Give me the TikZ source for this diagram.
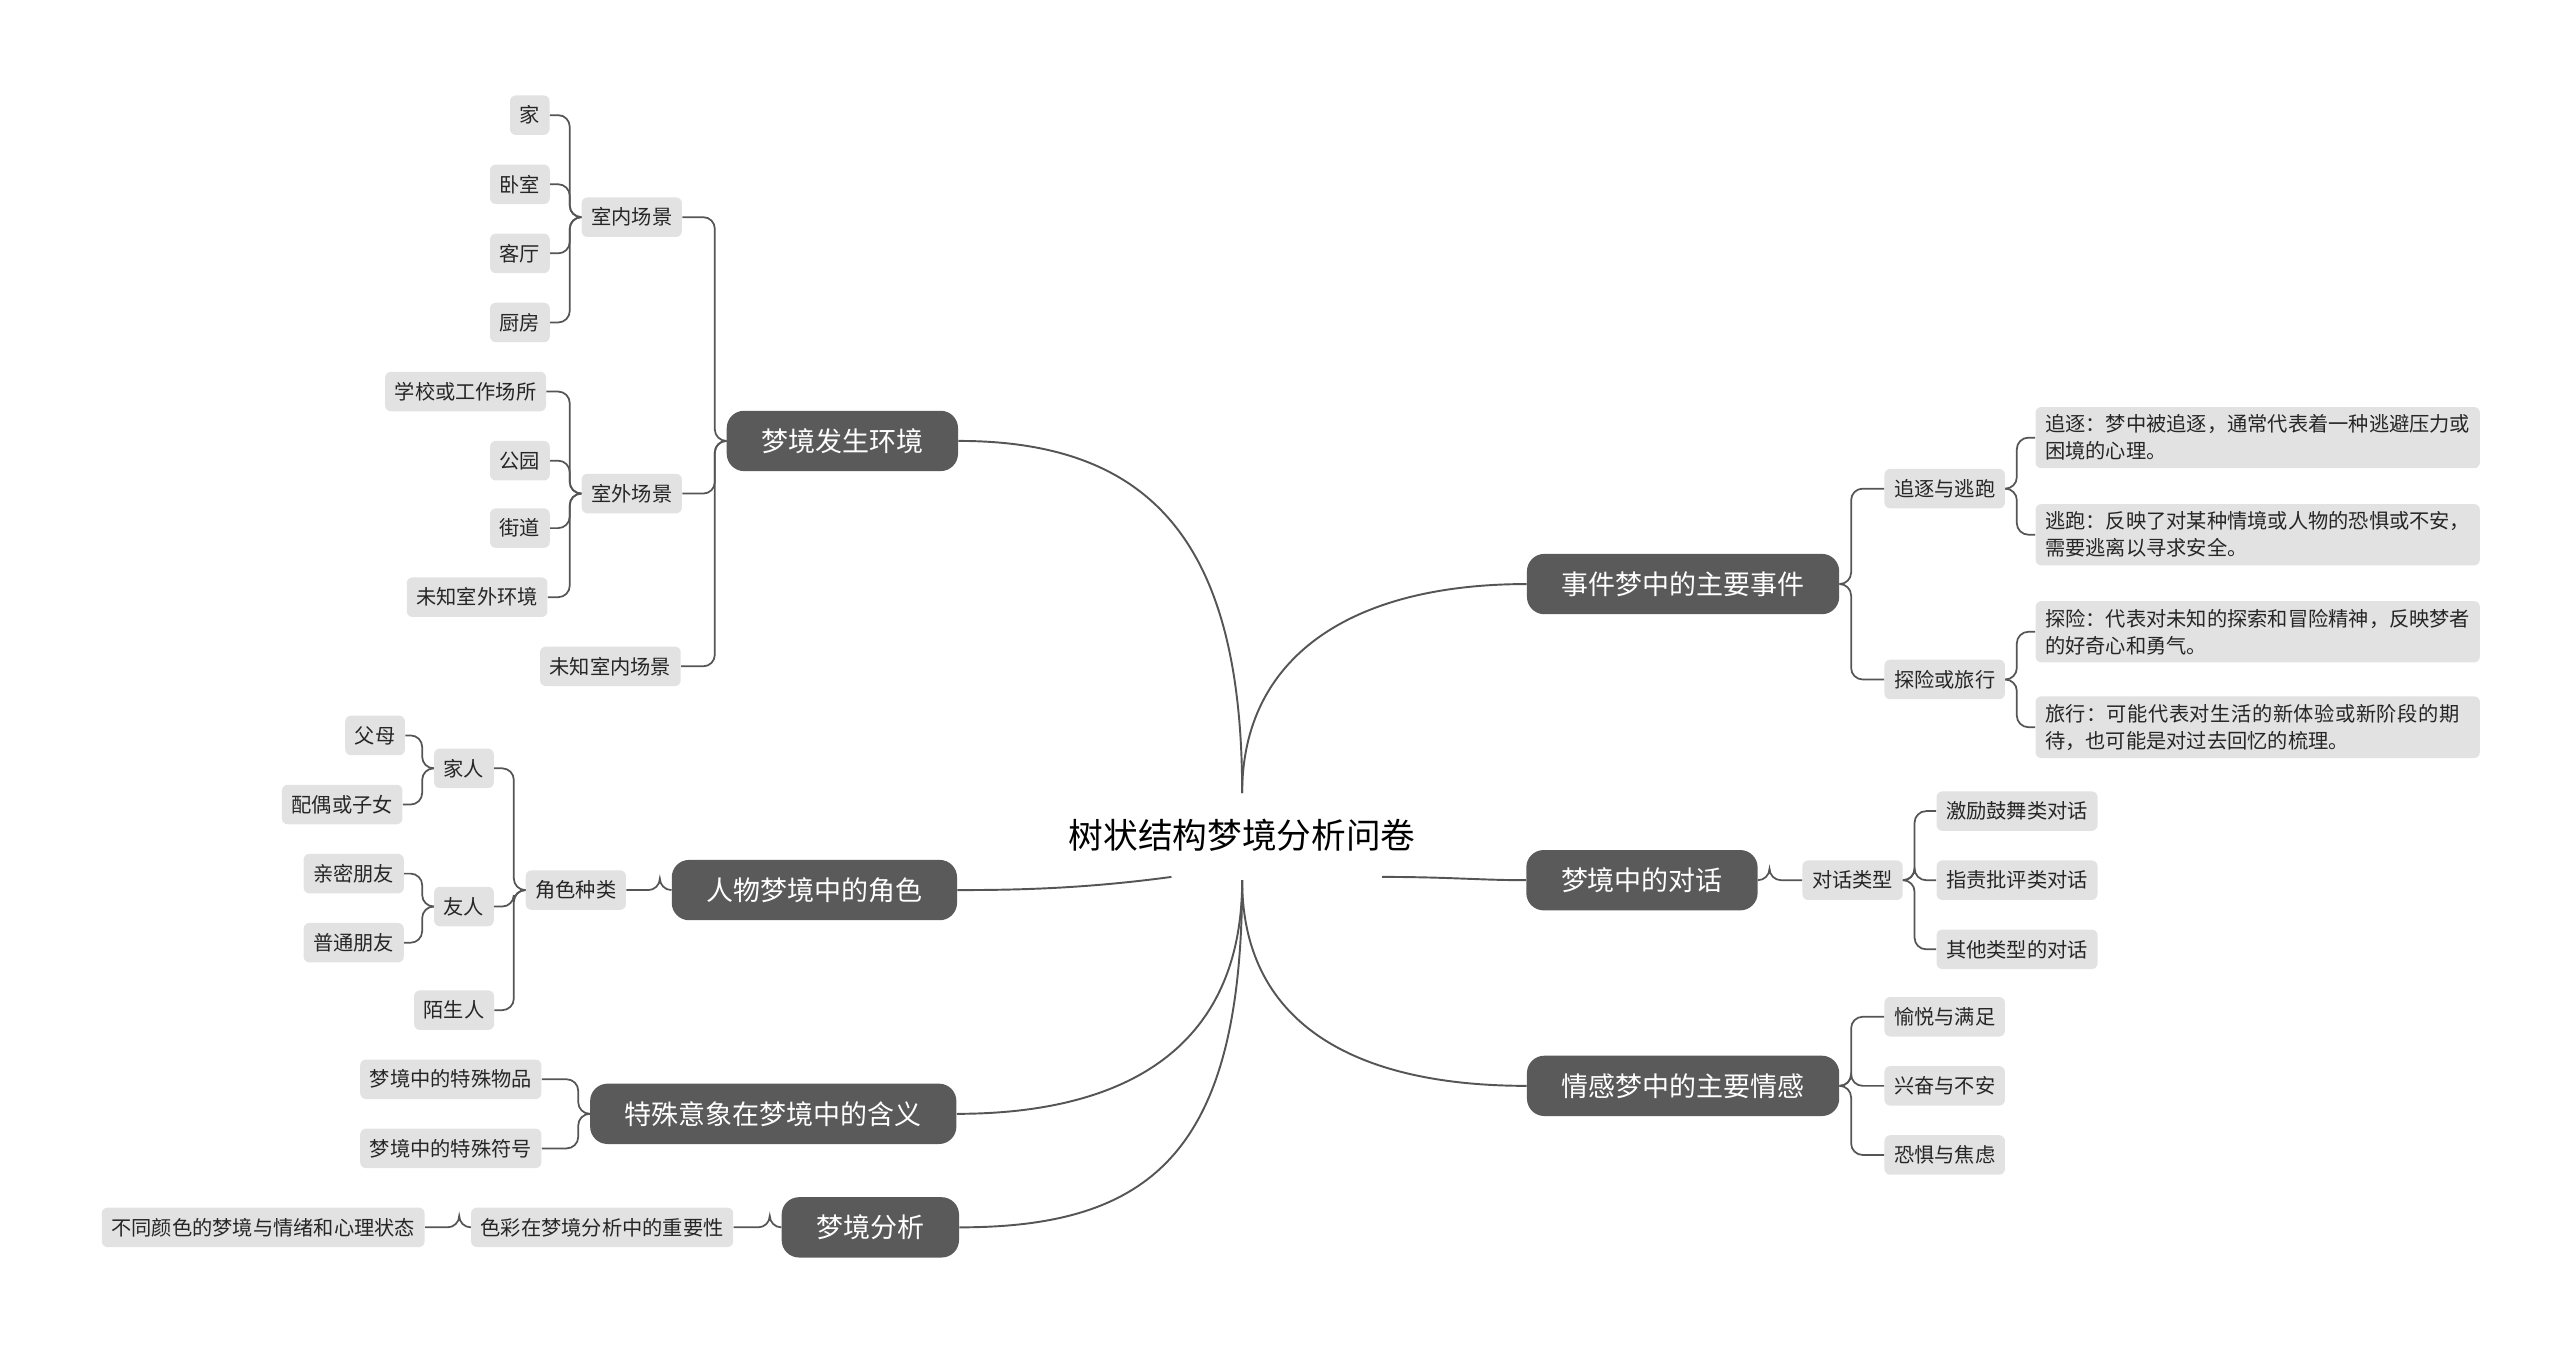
\documentclass[tikz,border=0pt]{standalone}
\usepackage{fontspec}
\setmainfont{Noto Sans CJK SC}
\XeTeXlinebreaklocale "zh"
\XeTeXlinebreakskip=0pt plus 1pt
\usetikzlibrary{positioning}
\definecolor{maindark}{HTML}{5A5A5A}
\definecolor{leafgray}{HTML}{E2E2E2}
\definecolor{linkgray}{HTML}{555555}
\tikzset{
  mainnode/.style={fill=maindark, text=white, rounded corners=9pt, minimum height=1.1cm, inner xsep=18pt, font=\fontsize{14}{16}\selectfont},
  subnode/.style={fill=leafgray, text=black!85, rounded corners=3pt, minimum height=0.72cm, inner xsep=5pt, font=\fontsize{10.5}{12}\selectfont},
  longbox/.style={subnode, text width=7.75cm, align=left, inner ysep=4pt, font=\fontsize{10.5}{14}\selectfont},
  link/.style={draw=linkgray, line width=0.9pt, rounded corners=6pt},
  curve/.style={draw=linkgray, line width=1pt}
}
\newcommand{\brL}[2]{\draw[link] (#1.west) -- ++(-7,0) |- (#2.east);}
\newcommand{\brR}[2]{\draw[link] (#1.east) -- ++(7,0) |- (#2.west);}
\begin{document}
\begin{tikzpicture}[x=0.03cm, y=-0.03cm]
\useasboundingbox (0,0) rectangle (1556,817);

% root
\node (root) at (755,508) {\fontsize{18}{20}\selectfont 树状结构梦境分析问卷};
\coordinate (rtop) at (755,482);
\coordinate (rbot) at (755,535);
\coordinate (rleft) at (712,533);
\coordinate (rright) at (840,533);

% main topics
\node[mainnode] (env) at (512,268) {梦境发生环境};
\node[mainnode] (role) at (495,541) {人物梦境中的角色};
\node[mainnode] (sym) at (470,677) {特殊意象在梦境中的含义};
\node[mainnode] (ana) at (529,746) {梦境分析};
\node[mainnode] (event) at (1023,355) {事件梦中的主要事件};
\node[mainnode] (talk) at (998,535) {梦境中的对话};
\node[mainnode] (feel) at (1023,660) {情感梦中的主要情感};

% environment
\node[subnode] (indoor) at (384,132) {室内场景};
\node[subnode] (outdoor) at (384,300) {室外场景};
\node[subnode] (unkin) at (371,405) {未知室内场景};
\node[subnode] (home) at (322,70) {家};
\node[subnode] (bed) at (316,112) {卧室};
\node[subnode] (liv) at (316,154) {客厅};
\node[subnode] (kit) at (316,196) {厨房};
\node[subnode] (school) at (283,238) {学校或工作场所};
\node[subnode] (park) at (316,280) {公园};
\node[subnode] (street) at (316,321) {街道};
\node[subnode] (unkout) at (290,363) {未知室外环境};

% roles
\node[subnode] (kind) at (350,541) {角色种类};
\node[subnode] (family) at (282,467) {家人};
\node[subnode] (friend) at (282,551) {友人};
\node[subnode] (stranger) at (276,614) {陌生人};
\node[subnode] (parent) at (228,447) {父母};
\node[subnode] (spouse) at (208,489) {配偶或子女};
\node[subnode] (close) at (215,531) {亲密朋友};
\node[subnode] (normal) at (215,573) {普通朋友};

% symbols, analysis
\node[subnode] (item) at (274,656) {梦境中的特殊物品};
\node[subnode] (sign) at (274,698) {梦境中的特殊符号};
\node[subnode] (color) at (366,746) {色彩在梦境分析中的重要性};
\node[subnode] (mood) at (160,746) {不同颜色的梦境与情绪和心理状态};

% events
\node[subnode] (chase) at (1182,297) {追逐与逃跑};
\node[subnode] (trip) at (1182,413) {探险或旅行};
\node[longbox, anchor=west] (chase1) at (1237,266) {追逐：梦中被追逐，通常代表着一种逃避压力或困境的心理。};
\node[longbox, anchor=west] (chase2) at (1237,325) {逃跑：反映了对某种情境或人物的恐惧或不安，需要逃离以寻求安全。};
\node[longbox, anchor=west] (trip1) at (1237,384) {探险：代表对未知的探索和冒险精神，反映梦者的好奇心和勇气。};
\node[longbox, anchor=west] (trip2) at (1237,442) {旅行：可能代表对生活的新体验或新阶段的期待，也可能是对过去回忆的梳理。};

% dialogue
\node[subnode] (ttype) at (1126,535) {对话类型};
\node[subnode] (cheer) at (1226,493) {激励鼓舞类对话};
\node[subnode] (blame) at (1226,535) {指责批评类对话};
\node[subnode] (other) at (1226,577) {其他类型的对话};

% feelings
\node[subnode] (joy) at (1182,618) {愉悦与满足};
\node[subnode] (excite) at (1182,660) {兴奋与不安};
\node[subnode] (fear) at (1182,702) {恐惧与焦虑};

% root connectors
\draw[curve] (rtop) .. controls (755,330) and (700,268) .. (env.east);
\draw[curve] (rleft) .. controls (660,540) and (620,541) .. (role.east);
\draw[curve] (rbot) .. controls (755,640) and (680,677) .. (sym.east);
\draw[curve] (rbot) .. controls (755,700) and (700,746) .. (ana.east);
\draw[curve] (rtop) .. controls (755,400) and (820,355) .. (event.west);
\draw[curve] (rright) .. controls (880,533) and (900,535) .. (talk.west);
\draw[curve] (rbot) .. controls (755,620) and (820,660) .. (feel.west);

% brackets
\foreach \c in {indoor,outdoor,unkin} {\brL{env}{\c}}
\foreach \c in {home,bed,liv,kit} {\brL{indoor}{\c}}
\foreach \c in {school,park,street,unkout} {\brL{outdoor}{\c}}
\brL{role}{kind}
\foreach \c in {family,friend,stranger} {\brL{kind}{\c}}
\foreach \c in {parent,spouse} {\brL{family}{\c}}
\foreach \c in {close,normal} {\brL{friend}{\c}}
\foreach \c in {item,sign} {\brL{sym}{\c}}
\brL{ana}{color}
\brL{color}{mood}
\foreach \c in {chase,trip} {\brR{event}{\c}}
\foreach \c in {chase1,chase2} {\brR{chase}{\c}}
\foreach \c in {trip1,trip2} {\brR{trip}{\c}}
\brR{talk}{ttype}
\foreach \c in {cheer,blame,other} {\brR{ttype}{\c}}
\foreach \c in {joy,excite,fear} {\brR{feel}{\c}}

\end{tikzpicture}
\end{document}
